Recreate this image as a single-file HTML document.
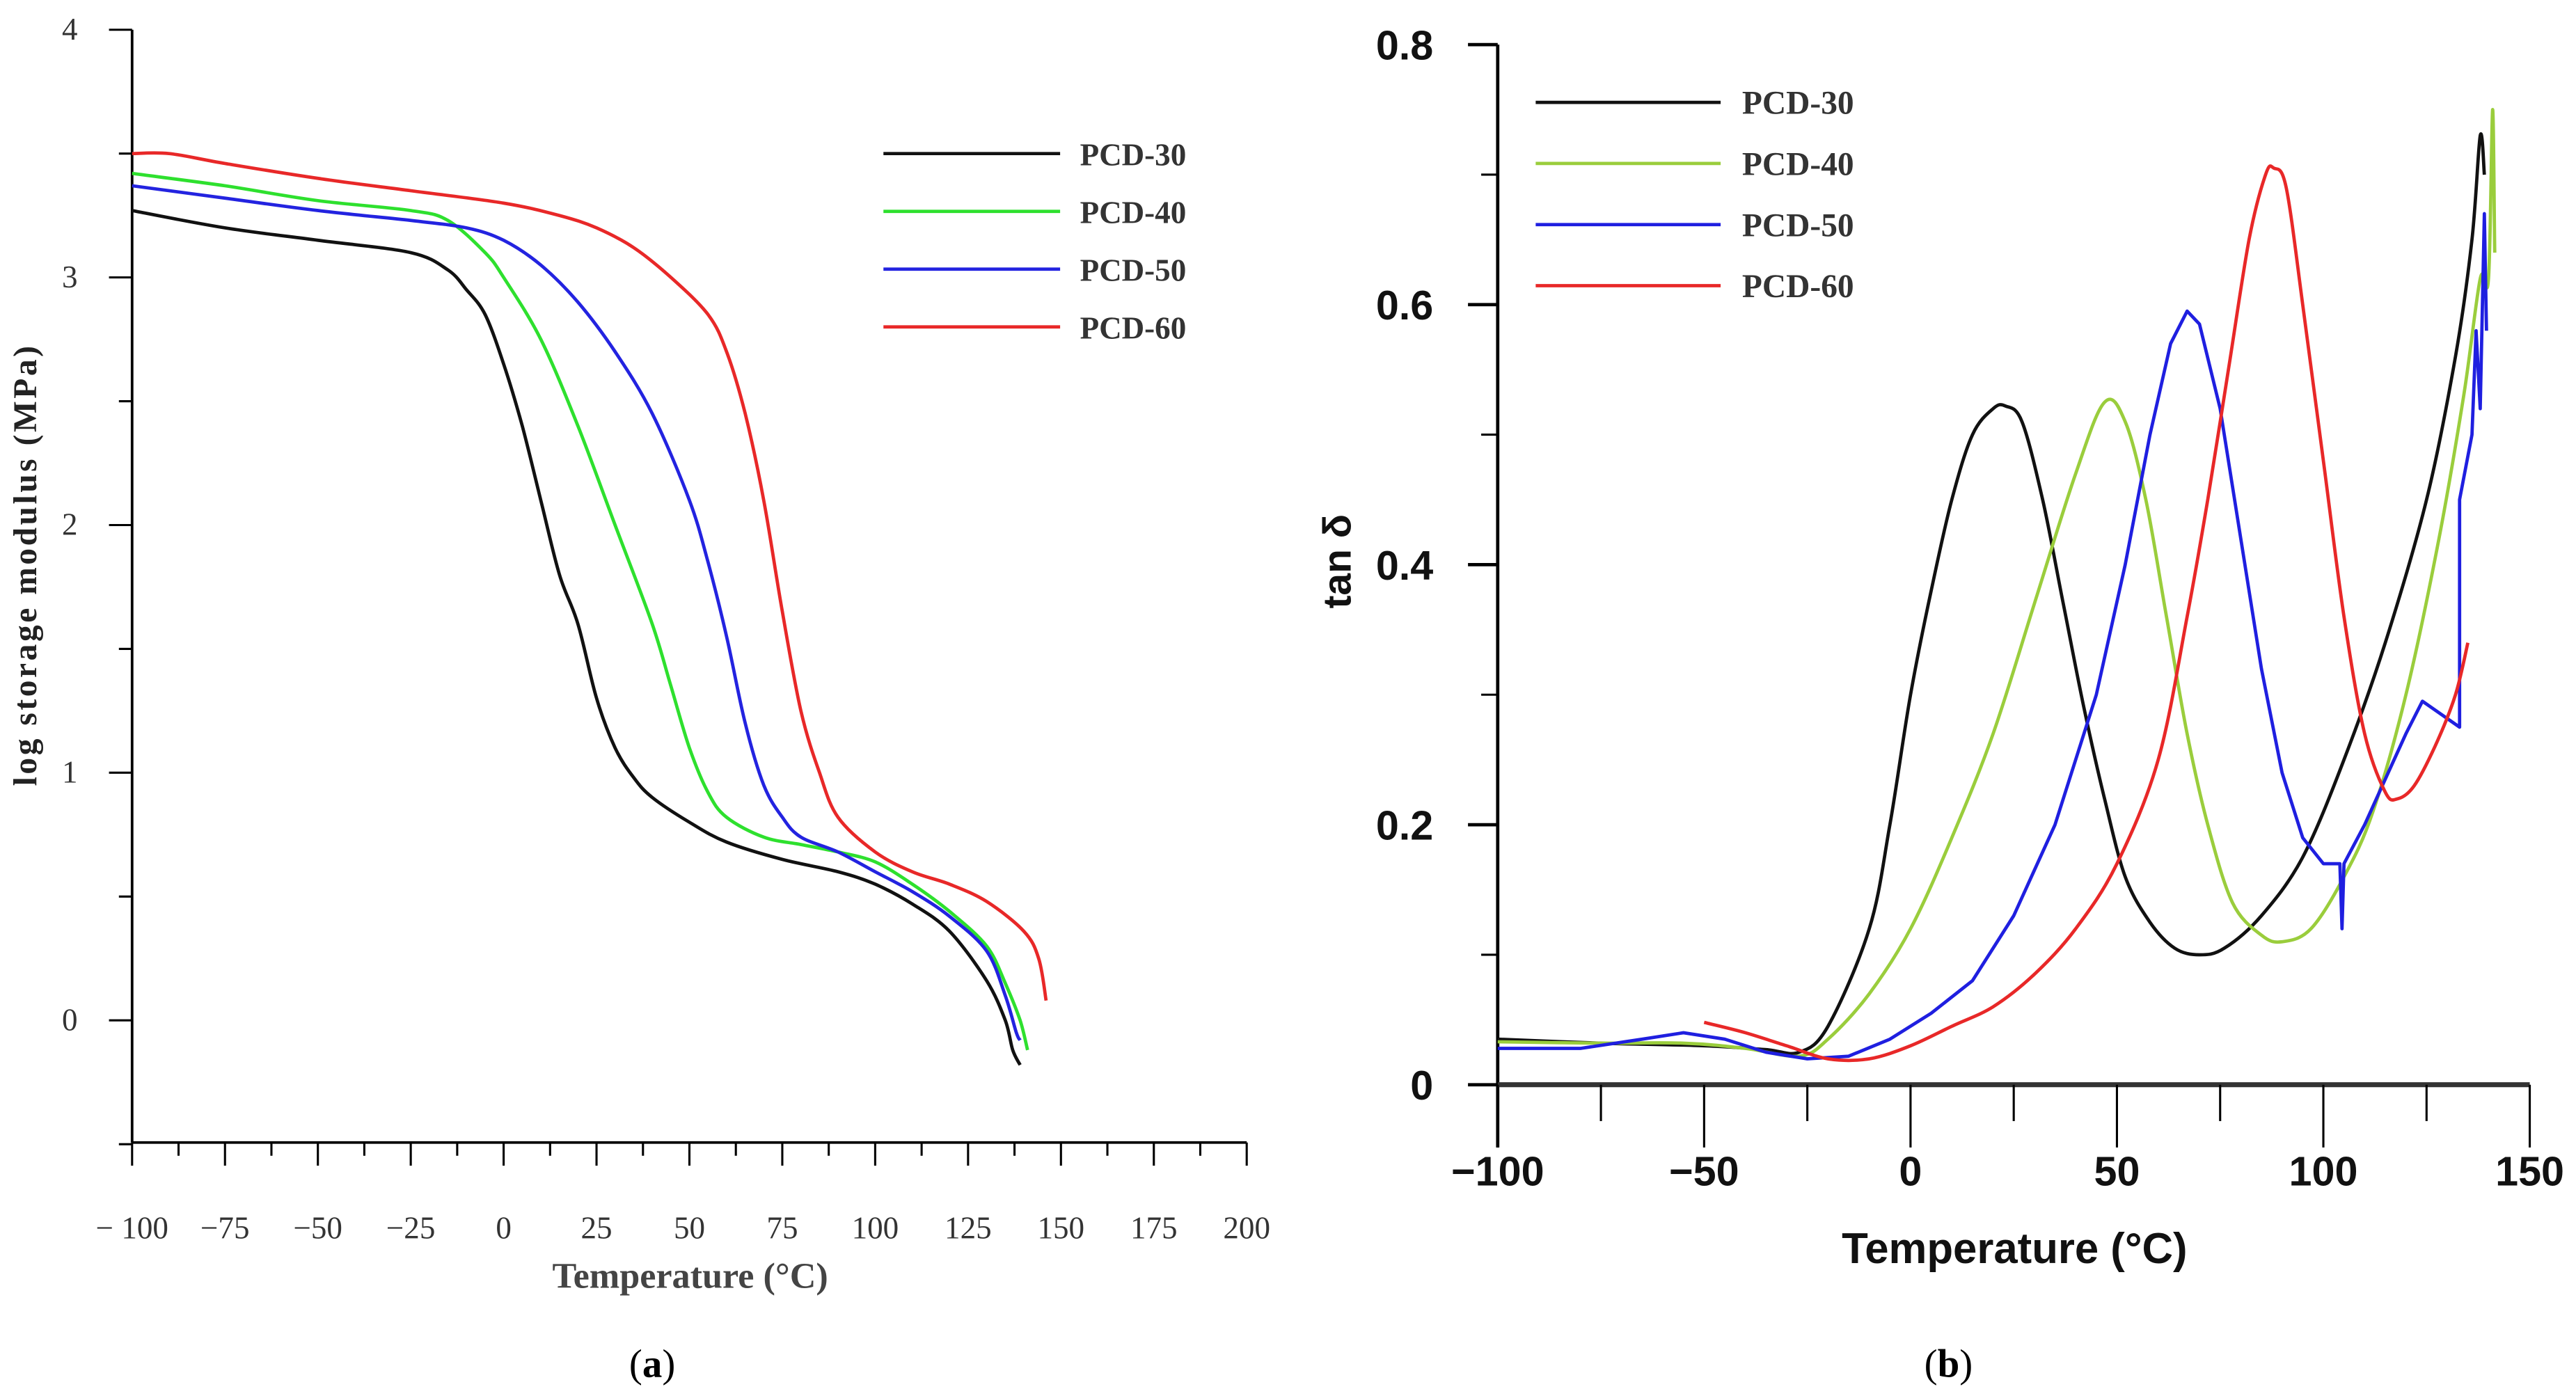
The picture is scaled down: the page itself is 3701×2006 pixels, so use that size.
<!DOCTYPE html>
<html><head><meta charset="utf-8"><style>
html,body{margin:0;padding:0;background:#fff;}
svg{display:block;}
</style></head><body>
<svg id="fig" width="3701" height="2006" viewBox="0 0 1560 845.5" xmlns="http://www.w3.org/2000/svg">
<g id="chartA"></g>
<g id="chartB"></g>
</svg>
<script>
// ---- Chart (a) data ----
const aSeriesNames = ["PCD-30","PCD-40","PCD-50","PCD-60"];
const aT30 = [-100,-75,-50,-25,-15,-10,-5,0,5,10,15,20,25,30,35,40,50,60,75,90,100,110,120,130,135,137,139];
const aE30 = [3.27,3.2,3.15,3.1,3.03,2.95,2.85,2.65,2.4,2.1,1.8,1.6,1.3,1.1,0.98,0.9,0.8,0.72,0.65,0.6,0.55,0.47,0.36,0.16,0.0,-0.12,-0.18];
const aT40 = [-100,-75,-50,-25,-15,-5,0,10,20,30,40,45,50,55,60,70,80,90,100,110,120,130,135,139,141];
const aE40 = [3.42,3.37,3.31,3.27,3.23,3.1,3.0,2.75,2.4,2.0,1.6,1.35,1.1,0.92,0.82,0.74,0.71,0.68,0.64,0.55,0.44,0.3,0.15,0.0,-0.12];
const aT50 = [-100,-75,-50,-25,-10,0,10,20,30,40,50,55,60,65,70,75,80,90,100,110,120,130,135,138,139];
const aE50 = [3.37,3.32,3.27,3.23,3.2,3.15,3.05,2.9,2.7,2.45,2.1,1.85,1.55,1.2,0.95,0.82,0.74,0.68,0.6,0.52,0.42,0.28,0.1,-0.05,-0.08];
const aT60 = [-100,-90,-75,-50,-25,0,15,25,35,45,55,60,65,70,75,80,85,90,100,110,120,130,140,144,146];
const aE60 = [3.5,3.5,3.46,3.4,3.35,3.3,3.25,3.2,3.12,3.0,2.85,2.7,2.45,2.1,1.65,1.25,1.0,0.82,0.68,0.6,0.55,0.48,0.36,0.25,0.08];
const aXTicks = [-100,-75,-50,-25,0,25,50,75,100,125,150,175,200];
const aXTickLabels = ["− 100","−75","−50","−25","0","25","50","75","100","125","150","175","200"];
const aYTicks = [0,1,2,3,4];
// ---- Chart (b) data ----
const bT30 = [-100,-75,-50,-35,-27,-20,-10,-5,0,5,10,15,20,23,27,32,37,42,47,52,58,64,70,76,85,95,105,115,125,132,136,138,139];
const bD30 = [0.035,0.032,0.03,0.027,0.025,0.045,0.12,0.2,0.3,0.38,0.45,0.5,0.52,0.522,0.51,0.45,0.37,0.29,0.22,0.16,0.125,0.105,0.1,0.105,0.13,0.175,0.25,0.34,0.45,0.56,0.65,0.73,0.7];
const bT40 = [-100,-75,-55,-40,-27,-20,-10,0,10,20,30,40,47,52,57,62,67,72,78,85,90,97,105,112,120,128,134,138,140,141,141.5];
const bD40 = [0.033,0.032,0.032,0.028,0.022,0.035,0.07,0.12,0.19,0.27,0.37,0.47,0.525,0.51,0.45,0.36,0.27,0.2,0.14,0.115,0.11,0.12,0.16,0.21,0.3,0.42,0.53,0.62,0.62,0.75,0.64];
const bT50 = [-100,-80,-65,-55,-45,-35,-25,-15,-5,5,15,25,35,45,52,58,63,67,70,75,80,85,90,95,100,104,104.5,105,110,115,120,124,133,133,136,137,138,139,139.5];
const bD50 = [0.028,0.028,0.035,0.04,0.035,0.025,0.02,0.022,0.035,0.055,0.08,0.13,0.2,0.3,0.4,0.5,0.57,0.595,0.585,0.52,0.42,0.32,0.24,0.19,0.17,0.17,0.12,0.17,0.2,0.235,0.27,0.295,0.275,0.45,0.5,0.58,0.52,0.67,0.58];
const bT60 = [-50,-40,-30,-20,-10,0,10,20,30,40,50,60,67,72,77,82,86,88,91,95,100,105,110,115,118,122,127,132,135];
const bD60 = [0.048,0.04,0.03,0.02,0.02,0.03,0.045,0.06,0.085,0.12,0.17,0.25,0.36,0.45,0.55,0.65,0.7,0.705,0.69,0.6,0.48,0.36,0.27,0.225,0.22,0.23,0.26,0.3,0.34];
const bXTicks = [-100,-50,0,50,100,150];
const bXTickLabels = ["−100","−50","0","50","100","150"];
const bYTicks = [0,0.2,0.4,0.6,0.8];
const bYTickLabels = ["0","0.2","0.4","0.6","0.8"];

const NS="http://www.w3.org/2000/svg";
function mk(parent,tag,attrs,text){const e=document.createElementNS(NS,tag);for(const k in attrs)e.setAttribute(k,attrs[k]);if(text!==undefined)e.textContent=text;parent.appendChild(e);return e;}
function smooth(p){
  if(p.length<3)return 'M'+p.map(q=>q.join(',')).join('L');
  let d='M'+p[0][0].toFixed(1)+','+p[0][1].toFixed(1);
  for(let i=0;i<p.length-1;i++){
    const p0=p[Math.max(0,i-1)],p1=p[i],p2=p[i+1],p3=p[Math.min(p.length-1,i+2)];
    const t=1/6;
    const c1=[p1[0]+(p2[0]-p0[0])*t,p1[1]+(p2[1]-p0[1])*t];
    const c2=[p2[0]-(p3[0]-p1[0])*t,p2[1]-(p3[1]-p1[1])*t];
    d+='C'+c1.map(v=>v.toFixed(1)).join(',')+' '+c2.map(v=>v.toFixed(1)).join(',')+' '+p2[0].toFixed(1)+','+p2[1].toFixed(1);
  }
  return d;
}

// ---- axes (a)
const axA={x0:80,x1:755,tmin:-100,tmax:200,y0:618,ppu:150};
const ax=t=>axA.x0+(t-axA.tmin)*(axA.x1-axA.x0)/(axA.tmax-axA.tmin);
const ay=v=>axA.y0-v*axA.ppu;
const A=document.getElementById('chartA');
const serif='"Liberation Serif", serif';
let e;
e=mk(A,'line',{x1:80,y1:18,x2:80,y2:692,stroke:'#000','stroke-width':1.6});

e=mk(A,'line',{x1:80,y1:692,x2:755,y2:692,stroke:'#000','stroke-width':1.6});

for(let t=-100;t<=200;t+=12.5){const major=(t%25===0);mk(A,'line',{x1:ax(t),y1:692,x2:ax(t),y2:692+(major?14:8),stroke:'#000','stroke-width':1.3});}
aXTicks.forEach((t,i)=>{e=mk(A,'text',{x:ax(t),y:750,'text-anchor':'middle','font-family':serif,'font-size':19,fill:'#333'},aXTickLabels[i]);
});
for(let v=-0.5;v<=4;v+=0.5){const major=Number.isInteger(v);mk(A,'line',{x1:80-(major?14:8),y1:ay(v),x2:80,y2:ay(v),stroke:'#000','stroke-width':1.3});}
aYTicks.forEach(v=>{e=mk(A,'text',{x:47,y:ay(v)+6,'text-anchor':'end','font-family':serif,'font-size':19,fill:'#333'},String(v));
});
e=mk(A,'text',{x:418,y:780,'text-anchor':'middle','font-family':serif,'font-size':22,'font-weight':'bold',fill:'#444'},'Temperature (°C)');

e=mk(A,'text',{x:0,y:0,transform:'translate(22,342) rotate(-90)','text-anchor':'middle','font-family':serif,'font-size':20,'font-weight':'bold','letter-spacing':1.5,fill:'#222'},'log storage modulus (MPa)');

const aColors=['#111','#2ee02e','#2323e0','#e82828'];
[[aT30,aE30],[aT40,aE40],[aT50,aE50],[aT60,aE60]].forEach((s,i)=>{
 const pts=s[0].map((t,j)=>[ax(t),ay(s[1][j])]);
 e=mk(A,'path',{d:smooth(pts),fill:'none',stroke:aColors[i],'stroke-width':2,'stroke-linejoin':'round'});
 
 const ly=93+35*i;
 e=mk(A,'line',{x1:535,y1:ly,x2:642,y2:ly,stroke:aColors[i],'stroke-width':2});
 
 e=mk(A,'text',{x:654,y:ly+7,'font-family':serif,'font-size':19,'font-weight':'bold',fill:'#333'},aSeriesNames[i]);
 
});
e=mk(A,'text',{x:395,y:834,'text-anchor':'middle','font-family':serif,'font-size':24,fill:'#000'});

e.innerHTML='(<tspan font-weight="bold">a</tspan>)';

// ---- axes (b)
const axB={x0:907,x1:1532,tmin:-100,tmax:150,y0:657,ppu:787.5};
const bx=t=>axB.x0+(t-axB.tmin)*(axB.x1-axB.x0)/(axB.tmax-axB.tmin);
const by=v=>axB.y0-v*axB.ppu;
const B=document.getElementById('chartB');
const sans='"Liberation Sans", sans-serif';
e=mk(B,'line',{x1:907,y1:27,x2:907,y2:695,stroke:'#000','stroke-width':2});

e=mk(B,'line',{x1:907,y1:657,x2:1532,y2:657,stroke:'#333','stroke-width':3});

for(let t=-100;t<=150;t+=25){const major=(t%50===0);mk(B,'line',{x1:bx(t),y1:657,x2:bx(t),y2:657+(major?38:22),stroke:'#000','stroke-width':1.3});}
bXTicks.forEach((t,i)=>{e=mk(B,'text',{x:bx(t),y:718,'text-anchor':'middle','font-family':sans,'font-size':25,'font-weight':'bold',fill:'#111'},bXTickLabels[i]);
});
for(let k=0;k<=8;k++){const v=k*0.1;const major=(k%2===0);mk(B,'line',{x1:907-(major?18:10),y1:by(v),x2:907,y2:by(v),stroke:'#000','stroke-width':major?2:1.3});}
bYTicks.forEach((v,i)=>{e=mk(B,'text',{x:868,y:by(v)+9,'text-anchor':'end','font-family':sans,'font-size':25,'font-weight':'bold',fill:'#111'},bYTickLabels[i]);
});
e=mk(B,'text',{x:1220,y:765,'text-anchor':'middle','font-family':sans,'font-size':26,'font-weight':'bold',fill:'#111'},'Temperature (°C)');

e=mk(B,'text',{x:0,y:0,transform:'translate(818,340) rotate(-90)','text-anchor':'middle','font-family':sans,'font-size':24,'font-weight':'bold',fill:'#111'},'tan δ');

const bColors=['#111','#9acd3c','#1f1fe0','#e82828'];
[[bT30,bD30],[bT40,bD40],[bT50,bD50],[bT60,bD60]].forEach((s,i)=>{
 const pts=s[0].map((t,j)=>[bx(t),by(s[1][j])]);
 const d=(i===2)?'M'+pts.map(q=>q[0].toFixed(1)+','+q[1].toFixed(1)).join('L'):smooth(pts);
 e=mk(B,'path',{d:d,fill:'none',stroke:bColors[i],'stroke-width':2,'stroke-linejoin':'round'});
 
 const ly=62+37*i;
 e=mk(B,'line',{x1:930,y1:ly,x2:1042,y2:ly,stroke:bColors[i],'stroke-width':2});
 
 e=mk(B,'text',{x:1055,y:ly+7,'font-family':serif,'font-size':20,'font-weight':'bold',fill:'#333'},aSeriesNames[i]);
 
});
e=mk(B,'text',{x:1180,y:834,'text-anchor':'middle','font-family':serif,'font-size':24,fill:'#000'});

e.innerHTML='(<tspan font-weight="bold">b</tspan>)';
</script>
</body></html>
